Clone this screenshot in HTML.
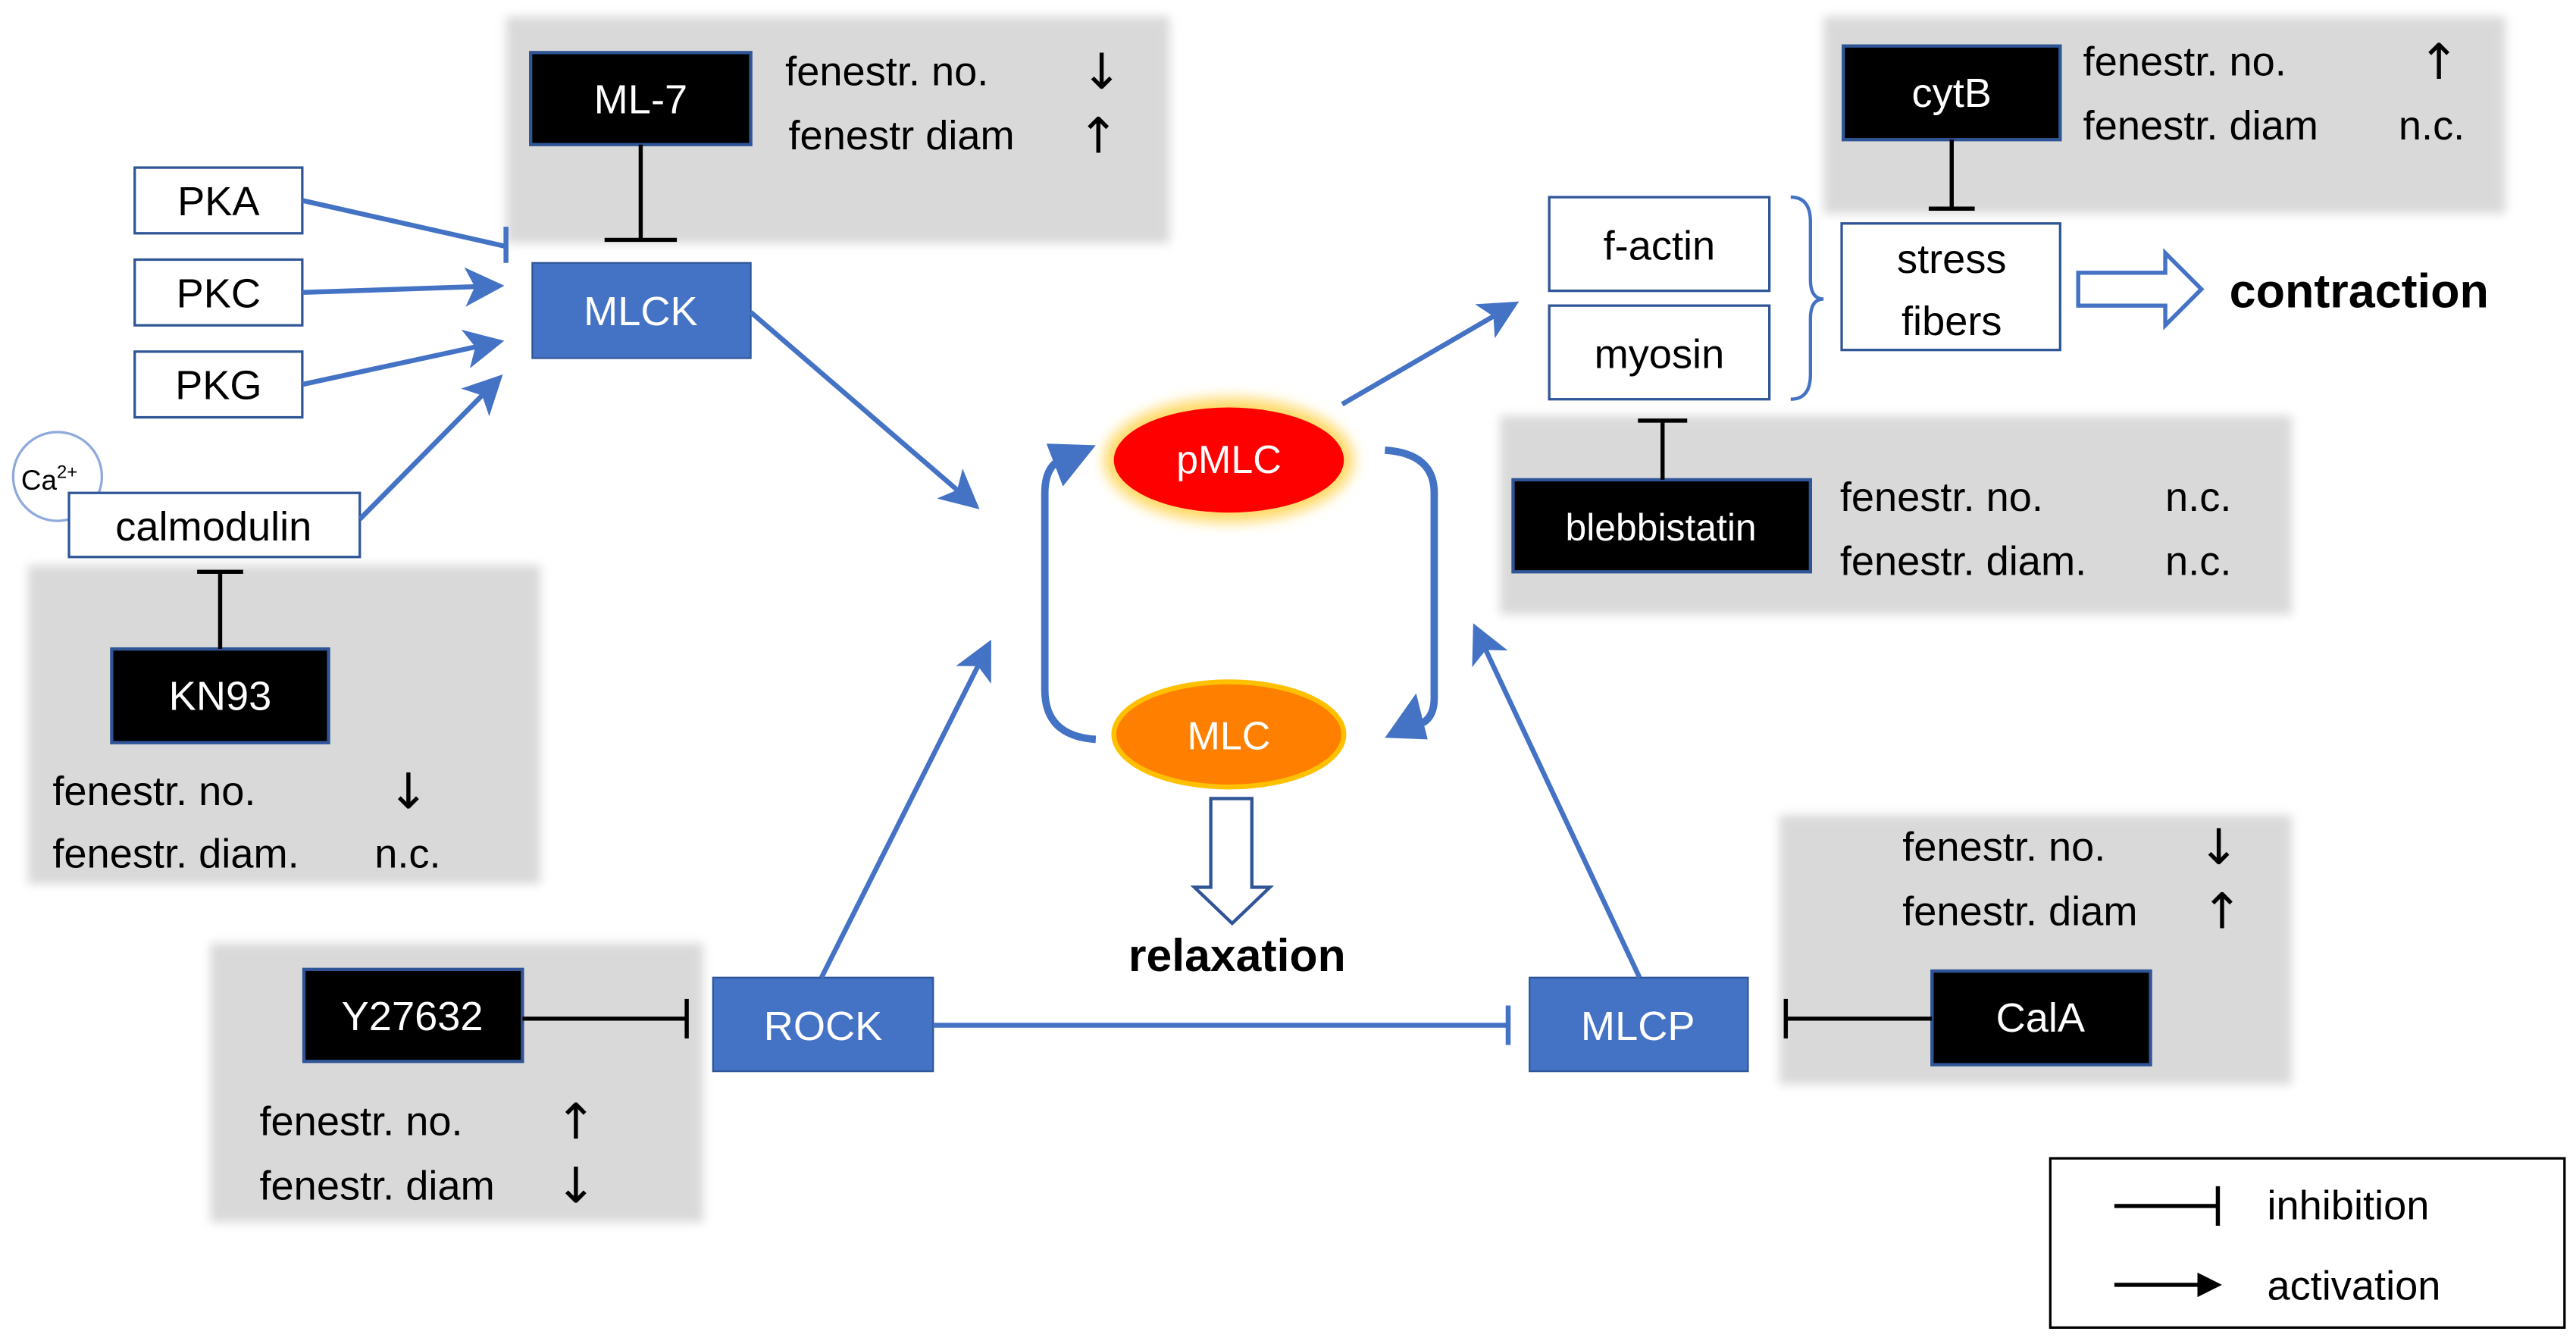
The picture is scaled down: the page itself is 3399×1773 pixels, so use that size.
<!DOCTYPE html>
<html><head><meta charset="utf-8"><style>html,body{margin:0;padding:0;background:#fff}svg{display:block}text{font-family:"Liberation Sans",sans-serif}.ar{font-family:"DejaVu Sans",sans-serif;font-size:30px}</style></head>
<body>
<svg width="3399" height="1773" viewBox="0 0 1568 818" preserveAspectRatio="none" xmlns="http://www.w3.org/2000/svg">
<defs>
<filter id="blur" x="-5%" y="-5%" width="110%" height="110%"><feGaussianBlur stdDeviation="3"/></filter>
<filter id="glow" x="-30%" y="-30%" width="160%" height="160%"><feGaussianBlur stdDeviation="4"/></filter>
<marker id="ab" markerWidth="8" markerHeight="8" refX="7" refY="4" orient="auto" markerUnits="strokeWidth"><path d="M0,0 L8,4 L0,8 L2,4 z" fill="#4472c4"/></marker>
<marker id="ak" markerWidth="6" markerHeight="6" refX="5" refY="3" orient="auto" markerUnits="strokeWidth"><path d="M0,0 L6,3 L0,6 z" fill="#000"/></marker>
</defs>
<g fill="#d9d9d9" filter="url(#blur)">
<rect x="308" y="10" width="404" height="138"/>
<rect x="17" y="344" width="312" height="194"/>
<rect x="128" y="574" width="300" height="170"/>
<rect x="1083" y="496" width="312" height="164"/>
<rect x="1110" y="10" width="415" height="120"/>
<rect x="913" y="253" width="482" height="121"/>
</g>
<g font-size="25" fill="#000">
<text x="478" y="52">fenestr. no.</text><text class="ar" x="658" y="54">↓</text>
<text x="480" y="91">fenestr diam</text><text class="ar" x="656" y="93">↑</text>
<text x="32" y="490">fenestr. no.</text><text class="ar" x="236" y="492">↓</text>
<text x="32" y="528">fenestr. diam.</text><text x="228" y="528">n.c.</text>
<text x="158" y="691">fenestr. no.</text><text class="ar" x="338" y="693">↑</text>
<text x="158" y="730">fenestr. diam</text><text class="ar" x="338" y="732">↓</text>
<text x="1158" y="524">fenestr. no.</text><text class="ar" x="1338" y="526">↓</text>
<text x="1158" y="563">fenestr. diam</text><text class="ar" x="1340" y="565">↑</text>
<text x="1268" y="46">fenestr. no.</text><text class="ar" x="1472" y="48">↑</text>
<text x="1268" y="85">fenestr. diam</text><text x="1460" y="85">n.c.</text>
<text x="1120" y="311">fenestr. no.</text><text x="1318" y="311">n.c.</text>
<text x="1120" y="350">fenestr. diam.</text><text x="1318" y="350">n.c.</text>
</g>
<g stroke="#2f5597" stroke-width="2" fill="#000">
<rect x="323" y="32" width="134" height="56"/>
<rect x="68" y="395" width="132" height="57"/>
<rect x="185" y="590" width="133" height="56"/>
<rect x="1176" y="591" width="133" height="57"/>
<rect x="1122" y="28" width="132" height="57"/>
<rect x="921" y="292" width="181" height="56"/>
</g>
<g fill="#fff" font-size="25" text-anchor="middle">
<text x="390" y="69">ML-7</text>
<text x="134" y="432">KN93</text>
<text x="251" y="627">Y27632</text>
<text x="1242" y="628">CalA</text>
<text x="1188" y="65">cytB</text>
<text x="1011" y="329" font-size="23">blebbistatin</text>
</g>
<g stroke="#2f5597" stroke-width="1.5" fill="#fff">
<rect x="82" y="102" width="102" height="40"/>
<rect x="82" y="158" width="102" height="40"/>
<rect x="82" y="214" width="102" height="40"/>
<circle cx="35" cy="290" r="27" stroke="#8faadc"/>
<rect x="42" y="300" width="177" height="39"/>
<rect x="943" y="120" width="134" height="57"/>
<rect x="943" y="186" width="134" height="57"/>
<rect x="1121" y="136" width="133" height="77"/>
</g>
<g font-size="25" text-anchor="middle" fill="#000">
<text x="133" y="131">PKA</text><text x="133" y="187">PKC</text><text x="133" y="243">PKG</text>
<text x="30" y="298" font-size="17">Ca<tspan font-size="11" dy="-7">2+</tspan></text>
<text x="130" y="329">calmodulin</text>
<text x="1010" y="158">f-actin</text><text x="1010" y="224">myosin</text>
<text x="1188" y="166">stress</text><text x="1188" y="204">fibers</text>
</g>
<g fill="#4472c4" stroke="#2f5597" stroke-width="1">
<rect x="324" y="160" width="133" height="58"/>
<rect x="434" y="595" width="134" height="57"/>
<rect x="931" y="595" width="133" height="57"/>
</g>
<g fill="#fff" font-size="25" text-anchor="middle">
<text x="390" y="198">MLCK</text><text x="501" y="633">ROCK</text><text x="997" y="633">MLCP</text>
</g>
<ellipse cx="748" cy="280" rx="76" ry="38" fill="#ffd966" filter="url(#glow)"/>
<ellipse cx="748" cy="280" rx="70" ry="32" fill="#ff0000"/>
<ellipse cx="748" cy="447" rx="70" ry="32" fill="#ff8000" stroke="#ffc000" stroke-width="3"/>
<text x="748" y="288" fill="#fff" font-size="24" text-anchor="middle">pMLC</text>
<text x="748" y="456" fill="#fff" font-size="24" text-anchor="middle">MLC</text>
<g stroke="#000" stroke-width="2.5" fill="none">
<path d="M390 88 V146 M368 146 H412"/>
<path d="M134 395 V348 M120 348 H148"/>
<path d="M318 620 H418 M418 608 V632"/>
<path d="M1176 620 H1087 M1087 608 V632"/>
<path d="M1188 85 V127 M1174 127 H1202"/>
<path d="M1012 292 V256 M997 256 H1027"/>
</g>
<g stroke="#4472c4" stroke-width="3" fill="none">
<path d="M184 122 L308 150 M308 138 V160"/>
<path d="M184 178 L304 174" marker-end="url(#ab)"/>
<path d="M184 234 L304 208" marker-end="url(#ab)"/>
<path d="M219 316 L304 230" marker-end="url(#ab)"/>
<path d="M457 190 L594 308" marker-end="url(#ab)"/>
<path d="M500 595 L602 392" marker-end="url(#ab)"/>
<path d="M998 595 L898 382" marker-end="url(#ab)"/>
<path d="M817 246 L922 185" marker-end="url(#ab)"/>
<path d="M568 624 H918 M918 612 V636"/>
<path d="M1090 120 Q1102 120 1102 135 V170 Q1102 182 1110 182 Q1102 182 1102 194 V228 Q1102 243 1090 243" stroke-width="2"/>
</g>
<g stroke="#4472c4" stroke-width="4.5" fill="none">
<path d="M667 450 Q636 448 636 420 V300 Q636 285 645 280"/>
<path d="M843 274 Q873 276 873 300 V425 Q873 436 866 440"/>
</g>
<g fill="#4472c4">
<polygon points="667,271 637,270 647,296"/>
<polygon points="843,449 869,450 862,422"/>
</g>
<path d="M737 486 H762 V540 H773 L750 562 L727 540 H737 Z" fill="#fff" stroke="#2f5597" stroke-width="2"/>
<path d="M1265 166 H1318 V154 L1340 176 L1318 198 V186 H1265 Z" fill="#fff" stroke="#4472c4" stroke-width="2.5"/>
<text x="753" y="591" font-size="28" font-weight="bold" text-anchor="middle">relaxation</text>
<text x="1357" y="187" font-size="29" font-weight="bold">contraction</text>
<rect x="1248" y="705" width="313" height="103" fill="#fff" stroke="#000" stroke-width="1.5"/>
<path d="M1287 734 H1350 M1350 722 V746" stroke="#000" stroke-width="2.5"/>
<path d="M1287 782 H1350" stroke="#000" stroke-width="2.5" marker-end="url(#ak)"/>
<text x="1380" y="742" font-size="25">inhibition</text>
<text x="1380" y="791" font-size="25">activation</text>
</svg>
</body></html>
